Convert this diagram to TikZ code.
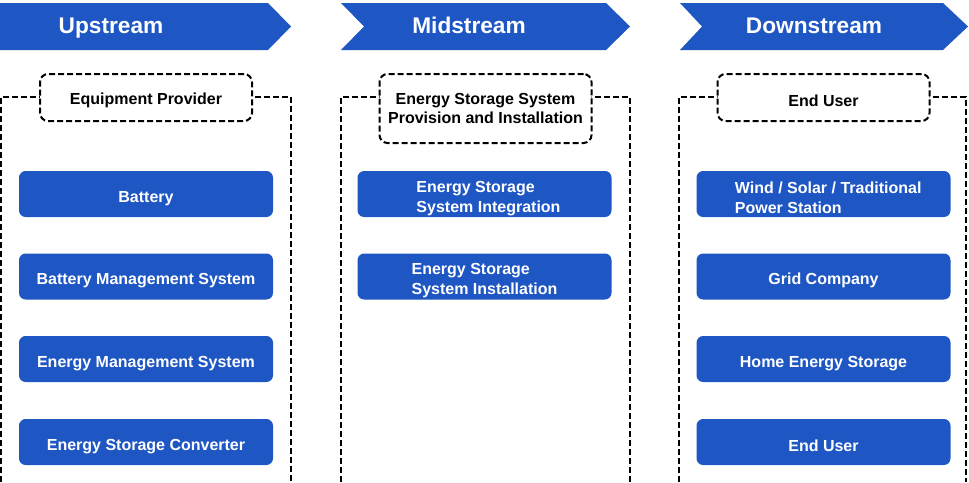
\documentclass[tikz,border=0pt]{standalone}
\usepackage{fontspec}
\setmainfont{Liberation Sans}
\definecolor{brandblue}{HTML}{1E56C4}
\newcommand{\lift}{\rule{0pt}{14.6pt}}
\begin{document}
\begin{tikzpicture}[x=0.75pt,y=-0.75pt,
 bannertext/.style={text=white,font=\fontsize{17}{20}\selectfont\bfseries, anchor=base},
 frame/.style={draw=black, line width=1.5pt, dash pattern=on 4.5pt off 2.25pt},
 label/.style={frame, fill=white, rounded corners=6pt, font=\fontsize{12}{14}\selectfont\bfseries, align=center, inner sep=0pt, minimum width=159pt, execute at begin node={\rule{0pt}{13.1pt}}},
 itembase/.style={fill=brandblue, rounded corners=5pt, text=white, font=\fontsize{12}{15}\selectfont\bfseries, inner sep=0pt, minimum width=190.5pt, minimum height=34.5pt},
 item/.style={itembase, execute at begin node={\lift}},
 itemtwo/.style={itembase, align=left}]
\useasboundingbox[fill=white] (0,0) rectangle (969,482);
% banners
\fill[brandblue] (0,3) -- (268,3) -- (291,26.5) -- (268,50) -- (0,50) -- cycle;
\fill[brandblue] (341,3) -- (606,3) -- (630,26.5) -- (606,50) -- (341,50) -- (364,26.5) -- cycle;
\fill[brandblue] (680,3) -- (943,3) -- (968,26.5) -- (943,50) -- (680,50) -- (702,26.5) -- cycle;
\node[bannertext] (up) at (111,33) {Upstream};
\node[bannertext] (mid) at (469,33) {Midstream};
\node[bannertext] (down) at (814,33) {Downstream};
% frames
\draw[frame] (1,482) -- (1,97) -- (291,97) -- (291,482);
\draw[frame] (341,482) -- (341,97) -- (630,97) -- (630,482);
\draw[frame] (679,482) -- (679,97) -- (966,97) -- (966,482);
% labels
\node[label, minimum height=35.25pt] (l1) at (146,97.5) {Equipment Provider};
\node[label, minimum height=51.75pt] (l2) at (485.5,108.5) {Energy Storage System\\Provision and Installation};
\node[label, minimum height=35.25pt] (l3) at (823.5,97.5) {End User};
% items
\node[item] (u1) at (146,194) {Battery};
\node[item] (u2) at (146,276.5) {Battery Management System};
\node[item] (u3) at (146,359) {Energy Management System};
\node[item] (u4) at (146,442) {Energy Storage Converter};
\node[itemtwo] (m1) at (484.5,194) {\lift\hspace*{6pt}Energy Storage\\\hspace*{6pt}System Integration};
\node[itemtwo] (m2) at (484.5,276.5) {\lift Energy Storage\\System Installation};
\node[itemtwo] (d1) at (823.5,194) {\lift\hspace*{7pt}Wind / Solar / Traditional\\\hspace*{7pt}Power Station};
\node[item] (d2) at (823.5,276.5) {Grid Company};
\node[item] (d3) at (823.5,359) {Home Energy Storage};
\node[item] (d4) at (823.5,442) {End User};
\end{tikzpicture}
\end{document}
